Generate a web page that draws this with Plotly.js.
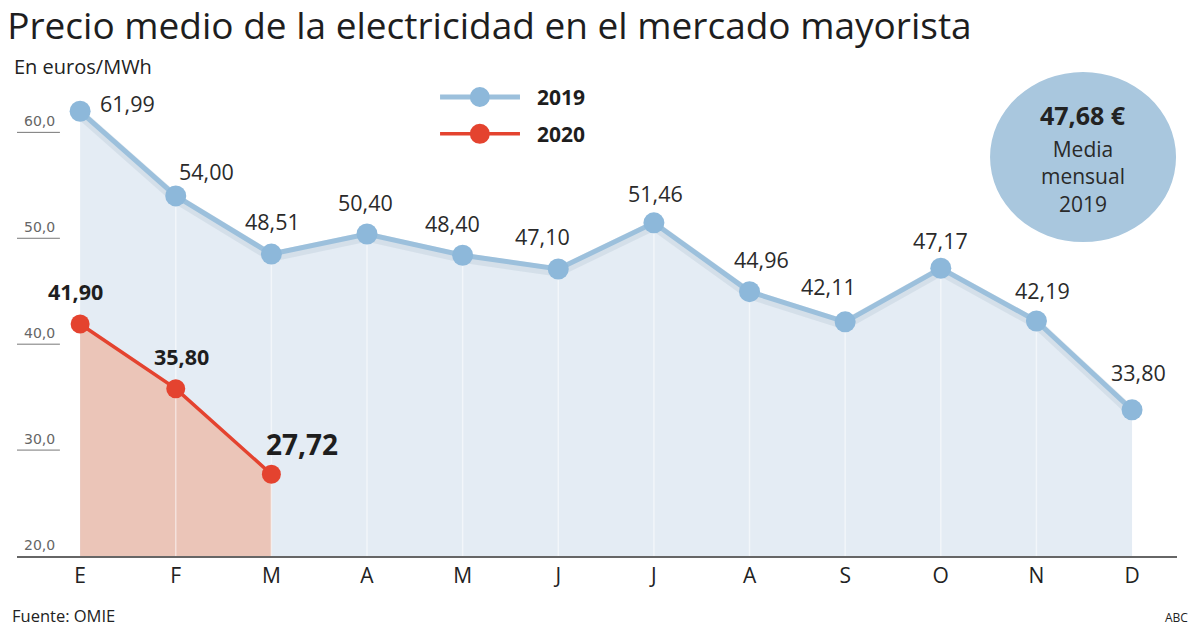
<!DOCTYPE html>
<html>
<head>
<meta charset="utf-8">
<script src="https://cdn.plot.ly/plotly-3.0.1.min.js"></script>
<style>
  html, body { margin: 0; padding: 0; background: #fff; }
  #plot { width: 1200px; height: 630px; }
</style>
</head>
<body>
<div id="plot"></div>
<script>
// Data (euros/MWh)
let months = ["E", "F", "M", "A", "M", "J", "J", "A", "S", "O", "N", "D"]
let prices2019 = [61.99, 54.00, 48.51, 50.40, 48.40, 47.10, 51.46, 44.96, 42.11, 47.17, 42.19, 33.80]
let prices2020 = [41.90, 35.80, 27.72]
let yTicks = [20, 30, 40, 50, 60]
let mean2019 = 47.68

// label offsets in px (x right, y up) so the numbers sit where the original puts them
let off2019 = [[47, 8], [31, 24], [1, 33], [-2, 32], [-10, 32], [-16, 32], [2, 29], [12, 32], [-17, 35], [0, 28], [6, 30], [6, 37]]
let off2020 = [[-5, 33], [6, 32], [31, 30]]

let xIdx = months.map((m, i) => i)
let fmt = v => v.toFixed(2).replace(".", ",")
let FONT = "Open Sans, Noto Sans, sans-serif"

let blueLine = "#9cc0dc"
let blueMarker = "#8db8da"
let blueFill = "#e4ecf4"
let redLine = "#e4432f"
let redFill = "#ebc5b8"

// Fill areas first (no lines)
let fill2019 = {
  x: xIdx, y: prices2019, type: "scatter", mode: "none",
  fill: "tozeroy", fillcolor: blueFill, hoverinfo: "skip", showlegend: false
}
let fill2020 = {
  x: xIdx.slice(0, prices2020.length), y: prices2020, type: "scatter", mode: "none",
  fill: "tozeroy", fillcolor: redFill, hoverinfo: "skip", showlegend: false
}

// faint vertical separators inside the filled area
let sepX = [], sepY = []
xIdx.forEach((x, i) => {
  if (i === 0 || i === xIdx.length - 1) return
  sepX.push(x, x, null)
  sepY.push(20, prices2019[i], null)
})
let separators = {
  x: sepX, y: sepY, type: "scatter", mode: "lines",
  line: { color: "rgba(255,255,255,0.5)", width: 1.5 }, hoverinfo: "skip", showlegend: false
}

// soft shadow under the 2019 line
let shadow2019 = {
  x: xIdx, y: prices2019.map(v => v - 0.25), type: "scatter", mode: "lines",
  line: { color: "rgba(110,140,165,0.13)", width: 10 }, hoverinfo: "skip", showlegend: false
}

let trace2019 = {
  x: xIdx, y: prices2019, type: "scatter", mode: "lines+markers", name: "2019",
  line: { color: blueLine, width: 5 },
  marker: { color: blueMarker, size: 21 }, showlegend: false
}
let trace2020 = {
  x: xIdx.slice(0, prices2020.length), y: prices2020, type: "scatter", mode: "lines+markers", name: "2020",
  line: { color: redLine, width: 3.5 },
  marker: { color: redLine, size: 19 }, showlegend: false
}

let data = [fill2019, fill2020, separators, shadow2019, trace2019, trace2020]

// Annotations: value labels
let annotations = []
prices2019.forEach((v, i) => {
  annotations.push({
    x: i, y: v, xref: "x", yref: "y", text: fmt(v), showarrow: false,
    xanchor: "center", yanchor: "middle", xshift: off2019[i][0], yshift: off2019[i][1],
    font: { family: FONT, size: 21.5, color: "#2a2a2a" }
  })
})
prices2020.forEach((v, i) => {
  let last = i === prices2020.length - 1
  annotations.push({
    x: i, y: v, xref: "x", yref: "y", text: "<b>" + fmt(v) + "</b>", showarrow: false,
    xanchor: "center", yanchor: "middle", xshift: off2020[i][0], yshift: off2020[i][1],
    font: { family: FONT, size: last ? 28 : 21.5, color: "#1e1e1e" }
  })
})

// y tick labels drawn inside the plot, with short underline
let shapes = []
yTicks.forEach(t => {
  annotations.push({
    x: 0.0198, y: t, xref: "paper", yref: "y", text: t.toFixed(1).replace(".", ","),
    showarrow: false, xanchor: "center", yanchor: "bottom", yshift: 1,
    font: { family: "DejaVu Sans, sans-serif", size: 14, color: "#666" }
  })
  if (t !== yTicks[0]) {
    shapes.push({
      type: "line", xref: "paper", yref: "y", x0: 0, x1: 0.037, y0: t, y1: t,
      line: { color: "#777", width: 1 }, layer: "above"
    })
  }
})

// custom legend
let legendItems = [
  { name: "2019", color: blueLine, mcolor: blueMarker, y: 0.985, w: 5 },
  { name: "2020", color: redLine, mcolor: redLine, y: 0.906, w: 3.5 }
]
legendItems.forEach(it => {
  shapes.push({
    type: "line", xref: "paper", yref: "paper", x0: 0.3647, x1: 0.4336, y0: it.y, y1: it.y,
    line: { color: it.color, width: it.w }
  })
  shapes.push({
    type: "circle", xref: "paper", yref: "paper", xsizemode: "pixel", ysizemode: "pixel",
    xanchor: 0.399, yanchor: it.y, x0: -10, x1: 10, y0: -10, y1: 10,
    fillcolor: it.mcolor, line: { width: 0 }
  })
  annotations.push({
    x: 0.4466, y: it.y, xref: "paper", yref: "paper", text: "<b>" + it.name + "</b>",
    showarrow: false, xanchor: "left", yanchor: "middle",
    font: { family: FONT, size: 21, color: "#1e1e1e" }
  })
})

// mean bubble
shapes.push({
  type: "circle", xref: "paper", yref: "paper", xsizemode: "pixel", ysizemode: "pixel",
  xanchor: 0.919, yanchor: 0.856, x0: -93, x1: 93, y0: -85, y1: 85,
  fillcolor: "#a9c7de", line: { width: 0 }
})
annotations.push({
  x: 0.919, y: 0.856, xref: "paper", yref: "paper", text: "<b>" + fmt(mean2019) + " €</b>",
  showarrow: false, xanchor: "center", yanchor: "middle", yshift: 42,
  font: { family: FONT, size: 25, color: "#222" }
})
annotations.push({
  x: 0.919, y: 0.856, xref: "paper", yref: "paper", text: "Media<br>mensual<br>2019",
  showarrow: false, xanchor: "center", yanchor: "middle", yshift: -19,
  font: { family: FONT, size: 21, color: "#2a2a2a" }
})

// subtitle, source, credit
annotations.push({
  x: (12 - 17) / 1160, y: 1 + (90 - 66) / 466, xref: "paper", yref: "paper", text: "En euros/MWh",
  showarrow: false, xanchor: "left", yanchor: "middle",
  font: { family: FONT, size: 20, color: "#222" }
})
annotations.push({
  x: (10 - 17) / 1160, y: -(615 - 556) / 466, xref: "paper", yref: "paper", text: "Fuente: OMIE",
  showarrow: false, xanchor: "left", yanchor: "middle",
  font: { family: FONT, size: 16.5, color: "#222" }
})
annotations.push({
  x: (1190 - 17) / 1160, y: -(617 - 556) / 466, xref: "paper", yref: "paper", text: "ABC",
  showarrow: false, xanchor: "right", yanchor: "middle",
  font: { family: FONT, size: 12, color: "#222" }
})

let layout = {
  width: 1200, height: 630,
  margin: { l: 17, r: 23, t: 90, b: 74 },
  paper_bgcolor: "#fff", plot_bgcolor: "#fff",
  title: {
    text: "Precio medio de la electricidad en el mercado mayorista",
    x: 0.006, xanchor: "left", xref: "container",
    y: 0.959, yanchor: "middle", yref: "container",
    font: { family: FONT, size: 37, color: "#1e1e1e" }
  },
  xaxis: {
    range: [-0.66, 11.47], tickvals: xIdx, ticktext: months,
    showgrid: false, zeroline: false, showline: true, linecolor: "#666", linewidth: 2,
    ticks: "", tickfont: { family: FONT, size: 21, color: "#222" }, fixedrange: true
  },
  yaxis: {
    range: [20, 64], showgrid: false, zeroline: false, showticklabels: false,
    ticks: "", fixedrange: true
  },
  shapes: shapes,
  annotations: annotations,
  showlegend: false
}

Plotly.newPlot("plot", data, layout, { displayModeBar: false, staticPlot: true })
</script>
</body>
</html>
